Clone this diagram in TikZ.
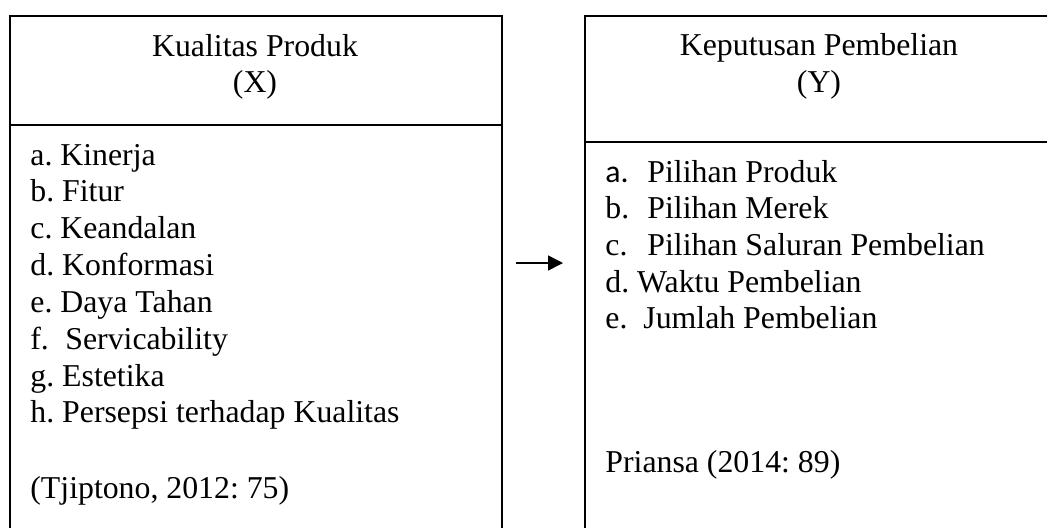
\documentclass[tikz,border=0pt]{standalone}
\usepackage{fontspec}
\setmainfont{Liberation Serif}
\newfontfamily\calibrifont{Carlito}
\usetikzlibrary{arrows.meta}
\frenchspacing

\begin{document}
\begin{tikzpicture}[x=0.5pt,y=-0.5pt]
		\useasboundingbox (0,0) rectangle (1047,527);
		\clip (0,0) rectangle (1047,527);

		\begin{scope}[every node/.style={rectangle,draw,line width=1pt,inner sep=0pt,anchor=north west}]
			\node[minimum width=246pt,minimum height=54.5pt] (Xhead) at (9,15) {};
			\node[minimum width=246pt,minimum height=211pt] (Xbody) at (9,124) {};
			\node[minimum width=245pt,minimum height=63pt] (Yhead) at (584,15) {};
			\node[minimum width=245pt,minimum height=203pt] (Ybody) at (584,141) {};
		\end{scope}

		\begin{scope}[every node/.style={inner sep=0pt,anchor=base west,font=\fontsize{15.9}{18}\selectfont}]
			\node[anchor=base] (Xtitle) at (255,56) {Kualitas Produk};
			\node[anchor=base] (Xvar) at (255,92) {(X)};
			\node[anchor=base] (Ytitle) at (819,55) {Keputusan Pembelian};
			\node[anchor=base] (Yvar) at (819,92) {(Y)};

			\foreach \item [count=\i] in {a. Kinerja, b. Fitur, c. Keandalan, d. Konformasi,
				e. Daya Tahan, \makebox[17.5pt][l]{f.}Servicability, g. Estetika,
				h. Persepsi terhadap Kualitas}
				\node (X\i) at (30,{165+36.85*(\i-1)}) {\item};
			\node (Xsrc) at (30,498) {(Tjiptono, 2012: 75)};

			\node (Y1) at (605,182) {\makebox[21pt][l]{\calibrifont a.}Pilihan Produk};
			\node (Y2) at (605,218) {\makebox[21pt][l]{b.}Pilihan Merek};
			\node (Y3) at (605,255) {\makebox[21pt][l]{c.}Pilihan Saluran Pembelian};
			\node (Y4) at (605,292) {d. Waktu Pembelian};
			\node (Y5) at (605,328) {\makebox[19pt][l]{e.}Jumlah Pembelian};
			\node (Ysrc) at (605,472) {Priansa (2014: 89)};
		\end{scope}

		\coordinate (arrtail) at (516,263);
		\coordinate (arrtip) at (563,263);
		\draw[-{Triangle[length=7.5pt,width=7.5pt]},line width=0.75pt] (arrtail) -- (arrtip);
	\end{tikzpicture}
\end{document}
